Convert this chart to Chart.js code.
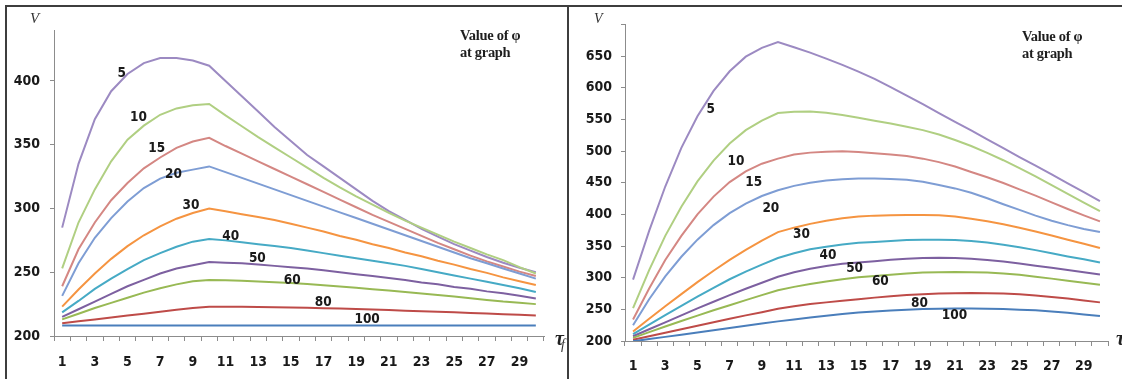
<!DOCTYPE html>
<html><head><meta charset="utf-8">
<script src="https://cdn.jsdelivr.net/npm/chart.js@4.4.0/dist/chart.umd.min.js"></script>
<style>
html,body{margin:0;padding:0;background:#fff;width:1122px;height:379px;overflow:hidden;position:relative}
.ln{position:absolute;background:#3e3e3e}
.cv{position:absolute}
.V{position:absolute;font-family:"Liberation Serif",serif;font-style:italic;color:#333;white-space:nowrap}
.note{position:absolute;font-family:"Liberation Serif",serif;font-weight:bold;font-size:14.5px;line-height:17px;color:#1e1e1e;letter-spacing:-0.3px;white-space:nowrap}
.tau{position:absolute;font-family:"Liberation Serif",serif;font-weight:bold;font-style:italic;font-size:20px;line-height:20px;color:#222}
.tsub{position:absolute;font-family:"Liberation Serif",serif;font-style:italic;font-size:14px;line-height:14px;color:#333}
</style></head>
<body>
<div class="ln" style="left:5px;top:5px;width:1117px;height:2px"></div>
<div class="ln" style="left:5px;top:5px;width:2px;height:374px"></div>
<div class="ln" style="left:567px;top:5px;width:2px;height:374px"></div>
<div class="cv" style="left:7px;top:7px"><canvas id="cL" width="560" height="372"></canvas></div>
<div class="cv" style="left:569px;top:7px"><canvas id="cR" width="553" height="372"></canvas></div>
<div class="V" style="left:30px;top:11px;font-size:15px;line-height:15px">V</div>
<div class="V" style="left:594px;top:12px;font-size:14px;line-height:14px">V</div>
<div class="note" style="left:460px;top:27px">Value of φ<br>at graph</div>
<div class="note" style="left:1022px;top:28px">Value of φ<br>at graph</div>
<div class="tau" style="left:555px;top:328px">τ</div>
<div class="tsub" style="left:561px;top:338px">f</div>
<div class="tau" style="left:1116px;top:328px">τ</div>
<div class="tsub" style="left:1122px;top:338px">f</div>
<script>
// ---- data ----
const categories = ['1','2','3','4','5','6','7','8','9','10','11','12','13','14','15','16','17','18','19','20','21','22','23','24','25','26','27','28','29','30'];
const xTickLabels = ['1','3','5','7','9','11','13','15','17','19','21','23','25','27','29'];
const leftYTicks = [200,250,300,350,400];
const rightYTicks = [200,250,300,350,400,450,500,550,600,650,700];
const phiValues = ['100','80','60','50','40','30','20','15','10','5'];
const seriesColors = ['#4A7EBB','#BE4B48','#98B954','#7D60A0','#46AAC5','#F59441','#7E9DD4','#D48783','#B0CF82','#9C8AC2'];

const left100 = [208.3,208.3,208.3,208.3,208.3,208.3,208.3,208.3,208.3,208.3,208.3,208.3,208.3,208.3,208.3,208.3,208.3,208.3,208.3,208.3,208.3,208.3,208.3,208.3,208.3,208.3,208.3,208.3,208.3,208.3];
const left80 = [210,211.5,213,214.5,216,217.5,219,220.5,222,223,223,222.9,222.8,222.6,222.4,222.1,221.8,221.5,221.1,220.7,220.3,219.9,219.5,219.1,218.6,218.1,217.6,217.1,216.6,216.1];
const left60 = [213,217.5,222,226,230,234,237.5,240.5,243,244,243.7,243.3,242.8,242.2,241.5,240.7,239.8,238.8,237.8,236.7,235.6,234.5,233.3,232.1,230.9,229.6,228.3,227,226,225];
const left50 = [215,221,227,233,239,244,249,253,255.5,258,257.5,257,256,255,254,253,251.5,250,248.5,247,245.5,244,242,240.5,238.5,237,235,233.5,231.5,229.5];
const left40 = [218.5,227.5,237,245,252.5,259.5,265,270,274,276,275,273.5,272,270.5,269,267,265,263,261,259,257,255,252.5,250,247.5,245,242.5,240,237.5,234.5];
const left30 = [223,236.5,249,260.5,270.5,279,286,292,296.5,300,297.8,295.5,293.3,291,288,285,282,278.5,275.5,272,269,265.5,262.5,259,256,252.5,249.5,246,243,240];
const left20 = [231.5,257,277,292.5,305.5,316,323.5,328,330.5,333,328.5,324,319.5,315,310.5,306,301.5,297,292.5,288,283.5,279,274.5,270,265.5,261,257,253,249,245];
const left15 = [239,268,289,306.5,320,331.5,340,347.5,352.5,355.5,349,343,337,331,325,319,313,307,301,295,289.5,284,278.5,273,268,263,258.5,254.5,250.5,247];
const left10 = [253,289,315,337,354,365,373.5,378.5,381,382,373,364.5,356,348,340,332,324,316.5,309.5,303,296.5,290.5,285,279.5,274,269,264,259.5,254,249];
const left5 = [285,335,370,392,405.5,414,418,418,416,412,400,388,376,364,353,342,333,324,315,306,298,291,284,278,272,267,262,257.5,253.5,250];

const right100 = [199.5,203,206.5,210,213.5,217,220.5,224,227.5,231,234,237,240,242.5,245,246.5,248,249.5,250.5,251,251.5,251.5,251,250.5,249.5,248.5,246.5,244.5,242,239.5];
const right80 = [202,207.5,213,218.5,224,229.5,235,240.5,245.5,251,255,258.5,261,263.5,266,268.5,270.5,272.5,274,275,275.5,276,275.5,275,274,272,269.5,267,264,261];
const right60 = [205,214,223,231.5,240,248.5,256.5,264.5,272.5,280,285.5,290,294,297.5,300.5,302.5,304.5,306.5,308,308.5,309,308.5,308,306.5,304.5,301.5,298.5,295,292,289];
const right50 = [207.5,218.5,229.5,240.5,251.5,262,272.5,282.5,292,301.5,308.5,314,318.5,322,324,326,328.5,330,331,331.5,331,330,328,325.5,322.5,319,315.5,312,308.5,305];
const right40 = [211,226,241,255.5,270,284,297.5,309.5,320.5,331,338.5,345,349,352.5,355,356.5,358,359.5,360,360,359.5,358,355.5,352,348,343.5,338.5,333.5,329,324];
const right30 = [215,235,255,274,293,311,328,344,358.5,372,379,385,390,394,396.5,398,398.5,399,399,398.5,396.5,393,389,384.5,379,373,366.5,360,353.5,347];
const right20 = [225,266,302,333,360,383,402,417,429,438,445,450,453.5,455.5,456.5,456.5,456,454.5,451.5,446.5,441,434,425.5,416,407,398,390,383,377,372];
const right15 = [234,283,328,366,400,428,451,468,480,488,494.5,497.5,499,499.5,498.5,496.5,494.5,492,488,482.5,475.5,467,458.5,449.5,439.5,429.5,419,408.5,398.5,389];
const right10 = [252,312,366,412,452,485,512,533,548,560,562,562.5,560.5,557,552.5,548,543.5,538.5,533,526,517.5,508,497,485.5,473,460,446,432.5,418.5,405];
const right5 = [297,374,444,505,555,595,626,649,663,672,664,655.5,646,636,625.5,614,601,587.5,574,560,546,532.5,518.5,504.5,490.5,477,463,449,435,421];

// curve labels: [text, category, value] in data units
const leftCurveLabels = [['5',4.65,405.5],['10',5.67,371.4],['15',6.79,347.2],['20',7.81,326.8],['30',8.89,302.6],['40',11.32,278.2],['50',12.95,260.9],['60',15.09,243.5],['80',16.98,226.2],['100',19.67,212.6]];
const rightCurveLabels = [['5',5.82,565.8],['10',7.39,484],['15',8.5,449.9],['20',9.56,410],['30',11.46,368.7],['40',13.11,335],['50',14.76,314.4],['60',16.36,294.7],['80',18.79,260],['100',20.96,240.3]];

const leftSeries = [left100,left80,left60,left50,left40,left30,left20,left15,left10,left5];
const rightSeries = [right100,right80,right60,right50,right40,right30,right20,right15,right10,right5];

const FONT = '"DejaVu Sans Condensed","DejaVu Sans",sans-serif';
const AXIS = '#8c8c8c';

const curveLabelPlugin = {
  id: 'curveLabels',
  afterDatasetsDraw(chart, args, opts) {
    const ctx = chart.ctx, xs = chart.scales.x, ys = chart.scales.y;
    ctx.save();
    ctx.font = 'bold 13.5px ' + FONT;
    ctx.fillStyle = '#1a1a1a';
    ctx.textAlign = 'center';
    ctx.textBaseline = 'middle';
    (opts.items || []).forEach(([t, c, v]) => {
      ctx.fillText(t, xs.getPixelForValue(c - 1), ys.getPixelForValue(v));
    });
    ctx.restore();
  }
};

function makeChart(id, series, cfg) {
  return new Chart(document.getElementById(id), {
    type: 'line',
    data: {
      labels: categories,
      datasets: series.map((d, i) => ({
        label: phiValues[i], data: d, borderColor: seriesColors[i],
        borderWidth: 2, pointRadius: 0, tension: 0, fill: false
      }))
    },
    options: {
      responsive: false, animation: false, devicePixelRatio: 1,
      layout: { padding: { top: cfg.padTop, right: cfg.padRight, left: 0, bottom: 0 } },
      plugins: { legend: { display: false }, tooltip: { enabled: false }, curveLabels: { items: cfg.labels } },
      scales: {
        x: {
          type: 'category', offset: true,
          grid: { offset: true, drawOnChartArea: false, drawTicks: true, tickLength: 5, color: AXIS, lineWidth: 1 },
          border: { display: true, color: AXIS, width: 1 },
          ticks: {
            autoSkip: false, maxRotation: 0, minRotation: 0, padding: cfg.xPad, color: '#1a1a1a',
            font: { family: FONT, size: 14, weight: 'bold' },
            callback: (v, i) => xTickLabels.includes(categories[i]) ? categories[i] : ''
          },
          afterFit: s => { s.height = cfg.xHeight; }
        },
        y: {
          min: 200, max: cfg.yMax,
          grid: { drawOnChartArea: false, drawTicks: true, tickLength: 4, color: AXIS, lineWidth: 1 },
          border: { display: true, color: AXIS, width: 1 },
          afterBuildTicks: s => { s.ticks = cfg.yTicks.map(v => ({ value: v })); },
          ticks: {
            padding: cfg.yPad, color: '#1a1a1a',
            font: { family: FONT, size: 14, weight: 'bold' },
            callback: v => (v === 700 ? '' : String(v))
          },
          afterFit: s => { s.width = cfg.yWidth; }
        }
      }
    },
    plugins: [curveLabelPlugin]
  });
}

makeChart('cL', leftSeries, { padTop: 23, padRight: 23, xHeight: 43, yWidth: 47, yMax: 440, yTicks: leftYTicks, xPad: 13, yPad: 10, labels: leftCurveLabels });
makeChart('cR', rightSeries, { padTop: 12, padRight: 14, xHeight: 38, yWidth: 56, yMax: 700, yTicks: rightYTicks, xPad: 12, yPad: 9, labels: rightCurveLabels });
</script>
</body></html>
